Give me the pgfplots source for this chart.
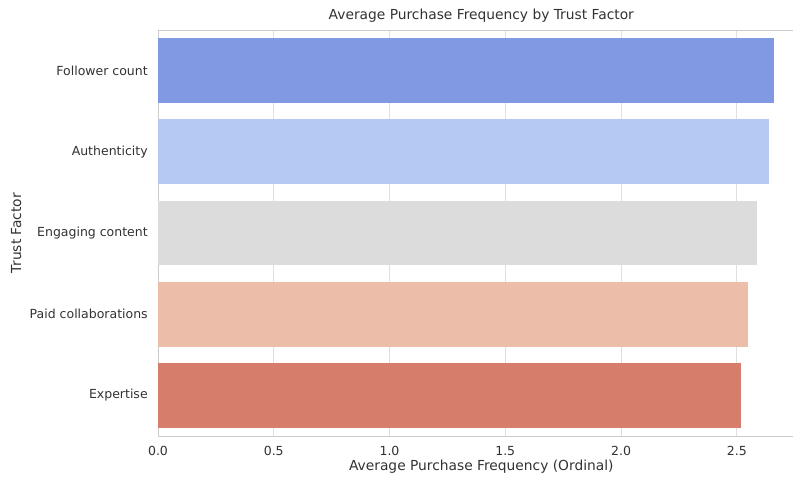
\documentclass[border=0pt]{standalone}
\usepackage{fontspec}
\setmainfont{DejaVu Sans}
\usepackage{pgfplots}
\pgfplotsset{compat=1.18}
\definecolor{cA}{RGB}{128,153,226}
\definecolor{cB}{RGB}{181,201,243}
\definecolor{cC}{RGB}{220,220,220}
\definecolor{cD}{RGB}{236,189,168}
\definecolor{cE}{RGB}{214,125,108}
\definecolor{txt}{RGB}{50,50,50}
\begin{document}
\fontsize{12.3}{14}\selectfont
\begin{tikzpicture}
\begin{axis}[
  scale only axis,
  width=646.6pt, height=406pt,
  xbar, bar width=0.8, bar shift=0pt,
  xmin=0, xmax=2.793,
  ymin=-0.5, ymax=4.5,
  y dir=reverse,
  ytick={0,1,2,3,4},
  yticklabels={Follower count,Authenticity,Engaging content,Paid collaborations,Expertise},
  xtick={0,0.5,1,1.5,2,2.5},
  /pgf/number format/fixed,
  /pgf/number format/fixed zerofill,
  /pgf/number format/precision=1,
  /pgf/number format/assume math mode=true,
  major tick length=0pt,
  xmajorgrids, ymajorgrids=false,
  grid style={color=black!12, line width=0.8pt},
  axis line style={color=black!20, line width=0.8pt},
  tick label style={font=\fontsize{12.5}{14}\selectfont, color=txt},
  label style={font=\fontsize{13.8}{16}\selectfont, color=txt},
  title style={font=\fontsize{13.8}{16}\selectfont, color=txt, yshift=-3pt},
  xticklabel style={yshift=-6pt},
  yticklabel style={xshift=-6pt},
  title={Average Purchase Frequency by Trust Factor},
  xlabel={Average Purchase Frequency (Ordinal)},
  ylabel={Trust Factor},
  xlabel style={yshift=4pt},
  ylabel style={yshift=0pt},
]
\addplot[fill=cA, draw=none] coordinates {(2.660,0)};
\addplot[fill=cB, draw=none] coordinates {(2.641,1)};
\addplot[fill=cC, draw=none] coordinates {(2.589,2)};
\addplot[fill=cD, draw=none] coordinates {(2.547,3)};
\addplot[fill=cE, draw=none] coordinates {(2.520,4)};
\end{axis}
\pgfresetboundingbox
\path (current axis.south west) ++(-158pt,-42pt) coordinate (a);
\path (current axis.south west) ++(635pt,436pt) coordinate (b);
\useasboundingbox (a) rectangle (b);
\end{tikzpicture}
\end{document}
